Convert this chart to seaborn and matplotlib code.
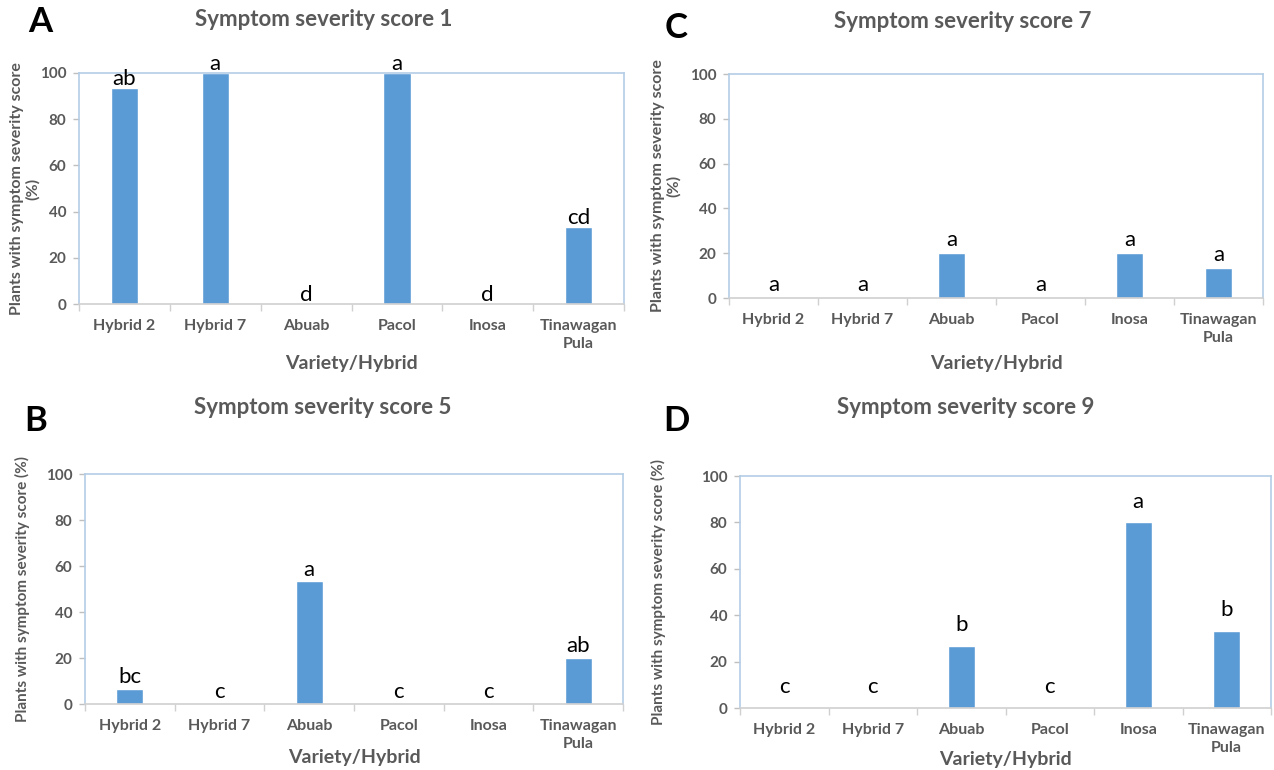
import pandas as pd
import matplotlib
matplotlib.use('Agg')
import matplotlib.pyplot as plt
import seaborn as sns

varieties = ['Hybrid 2', 'Hybrid 7', 'Abuab', 'Pacol', 'Inosa', 'Tinawagan\nPula']

score1 = [93.3, 100, 0, 100, 0, 33.3]
score5 = [6.7, 0, 53.3, 0, 0, 20]
score7 = [0, 0, 20, 0, 20, 13.3]
score9 = [0, 0, 26.7, 0, 80, 33.3]

letters1 = ['ab', 'a', 'd', 'a', 'd', 'cd']
letters5 = ['bc', 'c', 'a', 'c', 'c', 'ab']
letters7 = ['a', 'a', 'a', 'a', 'a', 'a']
letters9 = ['c', 'c', 'b', 'c', 'a', 'b']

W, H = 1274, 770
BAR = '#5B9BD5'
GREY = '#595959'
FRAME = '#B4CDE6'

sns.set_theme(style='white')
plt.rcParams['font.family'] = ['Lato', 'DejaVu Sans']


def fx(x):
    return x / W


def fy(y):
    return 1 - y / H


# panel: letter, title, values, letters, axes box (px), ylabel, label offset, misc positions
panels = [
    dict(tag='A', title='Symptom severity score 1', vals=score1, lets=letters1,
         box=(79, 73, 624, 304), ylab='Plants with symptom severity score\n(%)', ysize=11.5,
         off=4, tag_xy=(40, 22), title_xy=(324, 20), ylab_x=25, xlab_y=364),
    dict(tag='C', title='Symptom severity score 7', vals=score7, lets=letters7,
         box=(729, 74, 1263, 298), ylab='Plants with symptom severity score\n(%)', ysize=11.5,
         off=6, tag_xy=(676, 28), title_xy=(963, 22), ylab_x=666, xlab_y=364),
    dict(tag='B', title='Symptom severity score 5', vals=score5, lets=letters5,
         box=(85, 474, 623, 704), ylab='Plants with symptom severity score (%)', ysize=11,
         off=5, tag_xy=(36, 421), title_xy=(323, 408), ylab_x=22, xlab_y=758),
    dict(tag='D', title='Symptom severity score 9', vals=score9, lets=letters9,
         box=(740, 476, 1271, 708), ylab='Plants with symptom severity score (%)', ysize=11,
         off=9, tag_xy=(676, 421), title_xy=(966, 408), ylab_x=658, xlab_y=760),
]

fig = plt.figure(figsize=(W / 100, H / 100), dpi=100)

for p in panels:
    x0, y0, x1, y1 = p['box']
    ax = fig.add_axes([fx(x0), fy(y1), fx(x1) - fx(x0), fy(y0) - fy(y1)])
    df = pd.DataFrame({'variety': varieties, 'pct': p['vals']})
    sns.barplot(data=df, x='variety', y='pct', color=BAR, saturation=1, width=0.3, ax=ax)

    ax.set_xlim(-0.5, len(varieties) - 0.5)
    ax.set_ylim(0, 100)
    ax.set_yticks(range(0, 101, 20))

    # significance letters above bars
    for i, (v, s) in enumerate(zip(p['vals'], p['lets'])):
        ax.text(i, v + p['off'], s, ha='center', va='center', fontsize=16,
                color='black', family=['Lato', 'DejaVu Sans'])

    for side in ['left', 'top', 'right']:
        ax.spines[side].set_color(FRAME)
        ax.spines[side].set_linewidth(1.2)
    ax.spines['bottom'].set_color('#D0D0D0')
    ax.spines['bottom'].set_linewidth(1.2)

    ax.set_xticks([i + 0.5 for i in range(-1, len(varieties))], minor=True)
    ax.tick_params(axis='x', which='major', length=0, pad=11, labelsize=11.5,
                   labelcolor=GREY)
    ax.tick_params(axis='x', which='minor', length=5, color='#D0D0D0', width=1, bottom=True)
    ax.tick_params(axis='y', which='major', length=4, color='#BFBFBF', width=1, left=True,
                   pad=5, labelsize=11, labelcolor=GREY)
    for lab in ax.get_xticklabels() + ax.get_yticklabels():
        lab.set_fontweight('bold')
    for lab in ax.get_xticklabels():
        lab.set_linespacing(1.35)

    ax.set_xlabel('Variety/Hybrid', fontsize=14, fontweight='bold', color=GREY)
    ax.xaxis.set_label_coords(0.5, (y1 - p['xlab_y']) / (y1 - y0))
    ax.xaxis.label.set_va('center')
    ax.set_ylabel(p['ylab'], fontsize=p['ysize'], fontweight='bold', color=GREY,
                  linespacing=1.05)
    ax.yaxis.set_label_coords((p['ylab_x'] - x0) / (x1 - x0), 0.5)
    ax.yaxis.label.set_va('center')

    fig.text(fx(p['title_xy'][0]), fy(p['title_xy'][1]), p['title'], ha='center',
             va='center', fontsize=16, fontweight='bold', color=GREY)
    fig.text(fx(p['tag_xy'][0]), fy(p['tag_xy'][1]), p['tag'], ha='center',
             va='center', fontsize=25, fontweight='bold', color='black')

fig.savefig('out.png', dpi=100)
